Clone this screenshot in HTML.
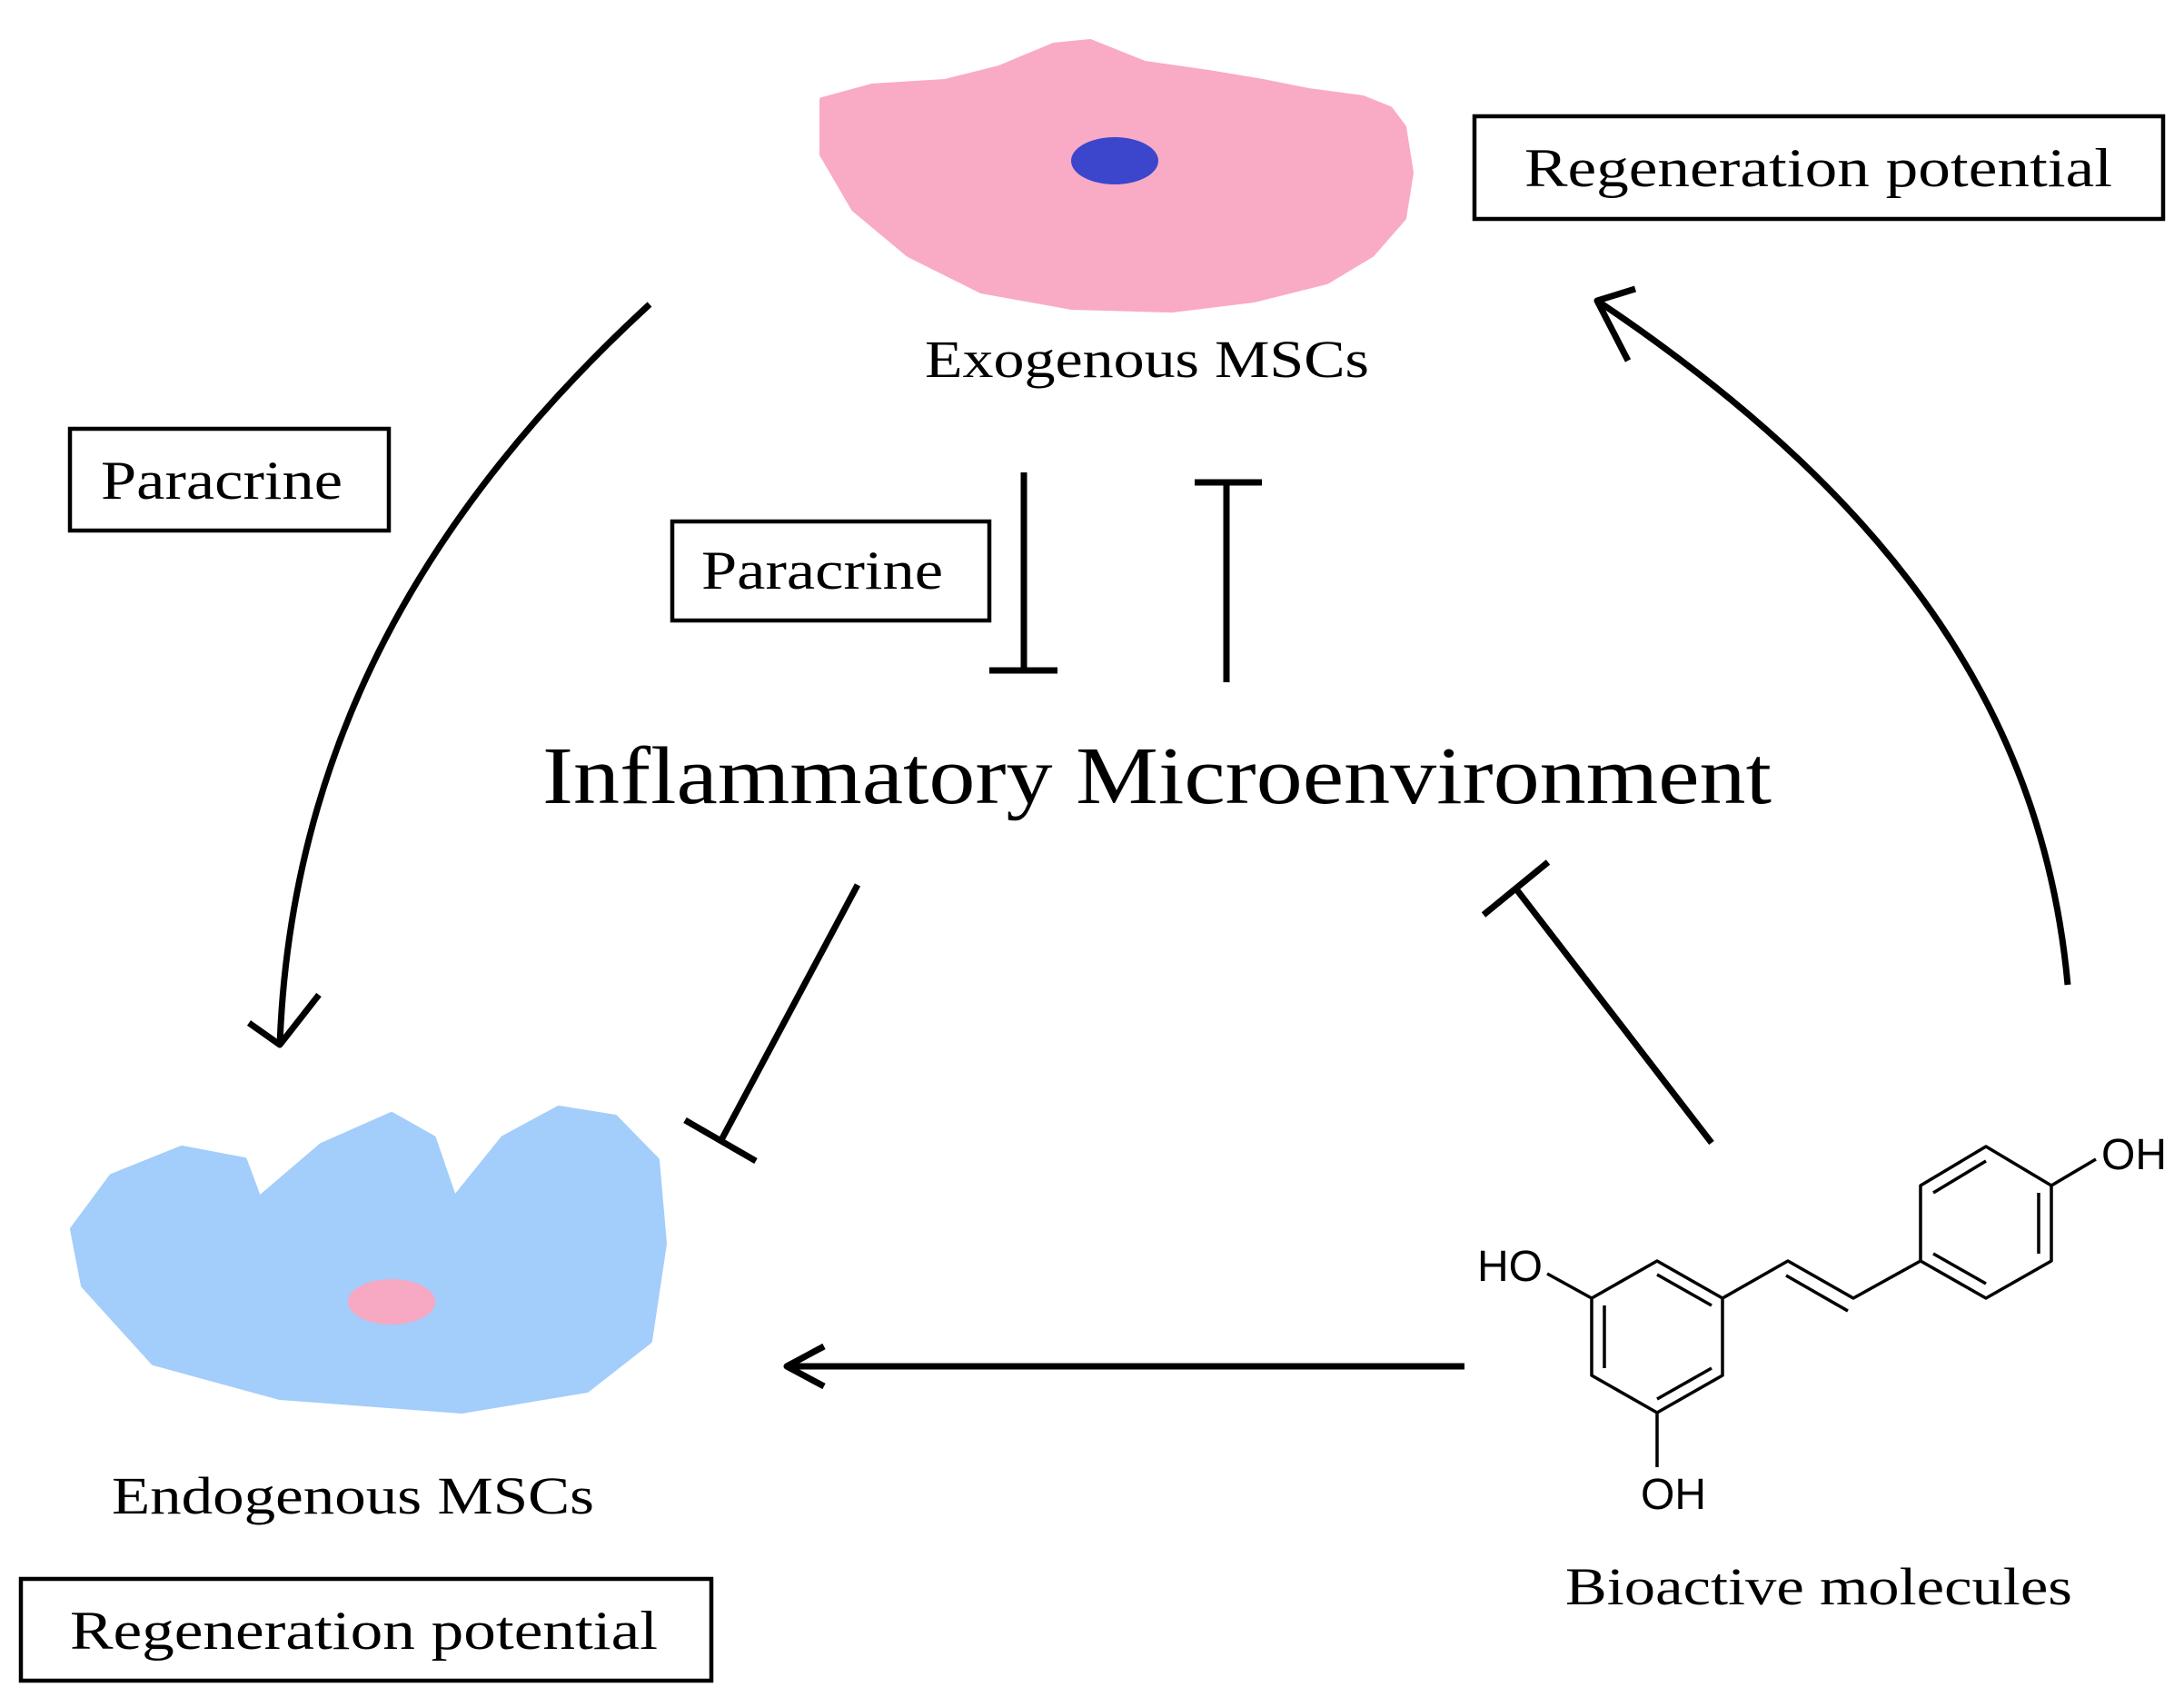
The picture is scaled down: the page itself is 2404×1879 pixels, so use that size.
<!DOCTYPE html>
<html><head><meta charset="utf-8"><style>html,body{margin:0;padding:0;background:#fff}svg{display:block}</style></head>
<body>
<svg width="2404" height="1879" viewBox="0 0 2404 1879" xmlns="http://www.w3.org/2000/svg" font-family="'Liberation Serif', serif">
<rect width="2404" height="1879" fill="#fff"/>
<!-- pink cell -->
<path d="M905,110 L960,95 L1040,90 L1100,75 L1160,50 L1200,46 L1260,70 L1330,80 L1390,90 L1440,100 L1500,108 L1530,120 L1545,140 L1553,190 L1545,240 L1510,280 L1460,310 L1380,330 L1290,341 L1180,338 L1080,320 L1000,280 L940,230 L905,170 Z" fill="#f9aac5" stroke="#f9aac5" stroke-width="6" stroke-linejoin="round"/>
<ellipse cx="1227" cy="177" rx="48" ry="26" fill="#3b46cc"/>
<!-- blue cell -->
<path d="M80,1353 L123,1295 L200,1264 L269,1277 L285,1320 L354,1261 L431,1227 L477,1253 L500,1320 L554,1253 L615,1220 L677,1230 L723,1277 L731,1369 L715,1476 L646,1530 L508,1553 L308,1538 L169,1500 L92,1415 Z" fill="#a3cdfa" stroke="#a3cdfa" stroke-width="6" stroke-linejoin="round"/>
<ellipse cx="431" cy="1433" rx="48" ry="25" fill="#f7a8c2"/>

<g font-size="58" fill="#000">
<text x="1018" y="415" textLength="489" lengthAdjust="spacingAndGlyphs">Exogenous MSCs</text>
<text x="123" y="1666" textLength="531" lengthAdjust="spacingAndGlyphs">Endogenous MSCs</text>
<text x="1723" y="1766" textLength="558" lengthAdjust="spacingAndGlyphs">Bioactive molecules</text>
</g>
<text x="597" y="884" font-size="90" textLength="1353" lengthAdjust="spacingAndGlyphs">Inflammatory Microenvironment</text>

<g fill="none" stroke="#000" stroke-width="4.5">
<rect x="1623" y="128" width="758" height="113"/>
<rect x="77" y="472" width="351" height="112"/>
<rect x="740" y="574" width="349" height="109"/>
<rect x="23" y="1738" width="760" height="112"/>
</g>
<g font-size="60">
<text x="1678" y="205" textLength="647" lengthAdjust="spacingAndGlyphs">Regeneration potential</text>
<text x="111" y="549" textLength="266" lengthAdjust="spacingAndGlyphs">Paracrine</text>
<text x="772" y="648" textLength="266" lengthAdjust="spacingAndGlyphs">Paracrine</text>
<text x="77" y="1815" textLength="647" lengthAdjust="spacingAndGlyphs">Regeneration potential</text>
</g>

<g fill="none" stroke="#000" stroke-width="7" stroke-linecap="butt">
<!-- inhibitors -->
<line x1="1127" y1="520" x2="1127" y2="738"/>
<line x1="1089" y1="738" x2="1164" y2="738"/>
<line x1="1350" y1="531" x2="1350" y2="751"/>
<line x1="1315" y1="531" x2="1389" y2="531"/>
<line x1="944" y1="974" x2="795" y2="1253"/>
<line x1="754" y1="1233" x2="832" y2="1278"/>
<line x1="1884" y1="1258" x2="1670" y2="980"/>
<line x1="1633" y1="1007" x2="1704" y2="949"/>
<!-- curved arrows -->
<path d="M715,335 C470,560 320,820 308,1150"/>
<path d="M274,1126 L308,1150 L351,1095" stroke-linejoin="round"/>
<path d="M2276,1084 C2250,800 2100,560 1758,331"/>
<path d="M1800,318 L1758,331 L1792,397" stroke-linejoin="round"/>
<!-- horizontal arrow -->
<line x1="1612" y1="1504" x2="866" y2="1504"/>
<path d="M907,1482 L866,1504 L907,1526" stroke-linejoin="round"/>
</g>

<!-- molecule -->
<g fill="none" stroke="#000" stroke-width="3.5" stroke-linejoin="round">
<path d="M1824,1388 L1896,1429 L1896,1514 L1824,1555 L1752,1514 L1752,1429 Z"/>
<line x1="1824" y1="1403" x2="1884" y2="1437"/>
<line x1="1766" y1="1437" x2="1766" y2="1506"/>
<line x1="1884" y1="1506" x2="1824" y2="1540"/>
<path d="M1896,1429 L1968,1388 L2040,1429 L2114,1388"/>
<line x1="1966" y1="1404" x2="2034" y2="1443"/>
<path d="M2114,1388 L2114,1305 L2186,1262 L2258,1305 L2258,1388 L2186,1429 Z"/>
<line x1="2128" y1="1313" x2="2186" y2="1278"/>
<line x1="2244" y1="1313" x2="2244" y2="1380"/>
<line x1="2186" y1="1413" x2="2128" y2="1380"/>
<line x1="2258" y1="1305" x2="2307" y2="1276"/>
<line x1="1752" y1="1429" x2="1703" y2="1402"/>
<line x1="1824" y1="1555" x2="1824" y2="1615"/>
</g>
<g font-family="'Liberation Sans', sans-serif" font-size="48">
<text x="2313" y="1287">OH</text>
<text x="1626" y="1410">HO</text>
<text x="1806" y="1661">OH</text>
</g>
</svg>
</body></html>
